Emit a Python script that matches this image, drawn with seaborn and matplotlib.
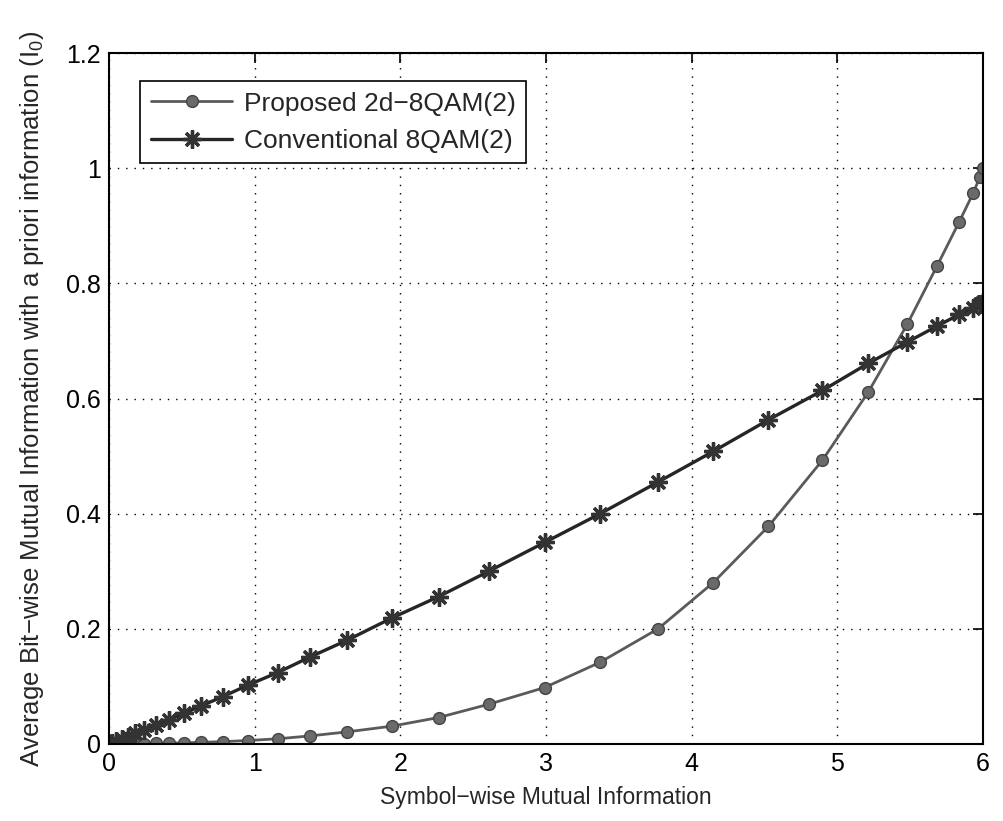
import matplotlib
matplotlib.use("Agg")
import matplotlib.pyplot as plt
import seaborn as sns
import pandas as pd

x_vals = [0.0, 0.02, 0.05, 0.09, 0.13, 0.18, 0.24, 0.32, 0.412, 0.515, 0.630, 0.779,
          0.951, 1.157, 1.379, 1.633, 1.943, 2.263, 2.607, 2.99, 3.372, 3.769, 4.147,
          4.527, 4.898, 5.212, 5.48, 5.686, 5.837, 5.933, 5.979, 6.0]
proposed = [0.0, 0.0, 0.0, 0.0, 0.0, 0.0005, 0.0007, 0.001, 0.0015, 0.002, 0.003, 0.004,
            0.006, 0.009, 0.014, 0.021, 0.031, 0.046, 0.069, 0.098, 0.142, 0.200, 0.280,
            0.378, 0.493, 0.611, 0.729, 0.831, 0.907, 0.957, 0.985, 1.0]
conventional = [0.0, 0.002, 0.005, 0.009, 0.013, 0.019, 0.025, 0.033, 0.042, 0.053, 0.066, 0.082,
                0.102, 0.124, 0.151, 0.180, 0.219, 0.256, 0.300, 0.350, 0.400, 0.455, 0.508,
                0.563, 0.614, 0.661, 0.698, 0.726, 0.746, 0.757, 0.764, 0.767]
labels = ["Proposed 2d\u22128QAM(2)", "Conventional 8QAM(2)"]
x_ticks = [0, 1, 2, 3, 4, 5, 6]
y_ticks = [0, 0.2, 0.4, 0.6, 0.8, 1.0, 1.2]
y_tick_labels = ["0", "0.2", "0.4", "0.6", "0.8", "1", "1.2"]

sns.set_style("white")
plt.rcParams['font.family'] = ['Liberation Sans', 'DejaVu Sans']
plt.rcParams['mathtext.fontset'] = 'custom'
plt.rcParams['mathtext.rm'] = 'Liberation Sans'
plt.rcParams['mathtext.it'] = 'Liberation Sans'

fig = plt.figure(figsize=(10.04, 8.21), dpi=100)
ax = fig.add_axes([0.1086, 0.0938, 0.8705, 0.8416])

df1 = pd.DataFrame({"x": x_vals, "y": proposed})
df2 = pd.DataFrame({"x": x_vals, "y": conventional})

sns.lineplot(data=df1, x="x", y="y", ax=ax, color="#5a5a5a", linewidth=2.0,
             marker="o", markersize=8.5, markerfacecolor="#6a6a6a",
             markeredgecolor="#444444", markeredgewidth=1.0, label=labels[0],
             estimator=None, sort=False)
sns.lineplot(data=df2, x="x", y="y", ax=ax, color="#262626", linewidth=2.4,
             marker=(8, 2, 0), markersize=13, markeredgecolor="#333333",
             markeredgewidth=2.4, label=labels[1], estimator=None, sort=False)

ax.set_xlim(0, 6)
ax.set_ylim(0, 1.2)
ax.set_xticks(x_ticks)
ax.set_yticks(y_ticks)
ax.set_yticklabels(y_tick_labels)
ax.tick_params(axis="both", direction="in", length=7, width=1.2, labelsize=18,
               top=True, right=True, colors="black", pad=6)
ax.grid(True, linestyle=(0, (1, 5)), color="black", linewidth=1.0)
for sp in ax.spines.values():
    sp.set_visible(True)
    sp.set_color("black")
    sp.set_linewidth(1.5)

ax.set_xlabel("Symbol\u2212wise Mutual Information", fontsize=16.5, labelpad=7)
ax.set_ylabel("Average Bit\u2212wise Mutual Information with a priori information (I$_0$)",
              fontsize=18.5, labelpad=14)

leg = ax.legend(loc="upper left", bbox_to_anchor=(0.0355, 0.9595), fontsize=19,
                frameon=True, fancybox=False, edgecolor="black", framealpha=1,
                handlelength=3.1, handletextpad=0.42, borderpad=0.4,
                labelspacing=0.5, borderaxespad=0.0)
leg.get_frame().set_linewidth(1.2)

fig.savefig("out.png", dpi=100, facecolor="white")
